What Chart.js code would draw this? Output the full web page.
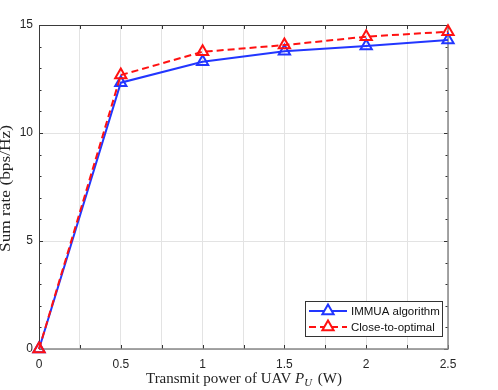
<!DOCTYPE html>
<html><head><meta charset="utf-8">
<script src="https://cdn.jsdelivr.net/npm/chart.js@4"></script>
<style>html,body{margin:0;padding:0;background:#fff}</style></head><body>
<canvas id="c" width="498" height="390"></canvas>
<script>
const powers = [0, 0.5, 1, 1.5, 2, 2.5];
const immua = [0, 12.33, 13.30, 13.78, 14.03, 14.30];
const closeOpt = [0, 12.68, 13.76, 14.07, 14.46, 14.69];
const xTickLabels = ['0', '0.5', '1', '1.5', '2', '2.5'];
const yTickLabels = ['0', '5', '10', '15'];
const seriesNames = ['IMMUA algorithm', 'Close-to-optimal'];
const yTitle = 'Sum rate (bps/Hz)';
const xTitleParts = ['Transmit power of UAV ', 'P', 'U', ' (W)'];

const BLUE = '#2236ff', RED = '#ff1111';
const TICKFONT = '11.5px "Liberation Sans", Arial, sans-serif';
const SERIF = '"Liberation Serif", "DejaVu Serif", serif';

function lbl(list, v) {
  const i = list.findIndex(s => Math.abs(parseFloat(s) - v) < 1e-6);
  return i >= 0 ? list[i] : '';
}

const frame = {
  id: 'frame',
  beforeDatasetsDraw(chart) {
    const {ctx, chartArea: a, scales: {x, y}} = chart;
    ctx.save();
    ctx.strokeStyle = '#333'; ctx.lineWidth = 1;
    ctx.beginPath();
    for (let v = 0; v <= 2.5001; v += 0.25) {
      const px = Math.round(x.getPixelForValue(v)) + 0.5;
      ctx.moveTo(px, a.bottom); ctx.lineTo(px, a.bottom - 4);
      ctx.moveTo(px, a.top); ctx.lineTo(px, a.top + 4);
    }
    for (let v = 0; v <= 15; v += 1) {
      const py = Math.round(y.getPixelForValue(v)) + 0.5;
      const len = (v % 5 === 0) ? 4 : 2.5;
      ctx.moveTo(a.left, py); ctx.lineTo(a.left + len, py);
      ctx.moveTo(a.right, py); ctx.lineTo(a.right - len, py);
    }
    ctx.stroke();
    ctx.strokeStyle = '#3a3a3a'; ctx.lineWidth = 1;
    ctx.beginPath();
    ctx.moveTo(a.left + 0.5, a.bottom); ctx.lineTo(a.left + 0.5, a.top + 0.5); ctx.lineTo(a.right, a.top + 0.5);
    ctx.stroke();
    ctx.strokeStyle = '#888'; ctx.lineWidth = 1.5;
    ctx.beginPath();
    ctx.moveTo(a.left, a.bottom); ctx.lineTo(a.right, a.bottom); ctx.lineTo(a.right, a.top);
    ctx.stroke();
    ctx.restore();
  },
  afterDraw(chart) {
    const {ctx, chartArea: a} = chart;
    ctx.save();
    ctx.fillStyle = '#222';
    ctx.textBaseline = 'alphabetic';
    const fN = '14px ' + SERIF, fI = 'italic 14px ' + SERIF, fS = 'italic 10px ' + SERIF;
    ctx.font = fN; const w0 = ctx.measureText(xTitleParts[0]).width, w3 = ctx.measureText(xTitleParts[3]).width;
    ctx.font = fI; const w1 = ctx.measureText(xTitleParts[1]).width;
    ctx.font = fS; const w2 = ctx.measureText(xTitleParts[2]).width;
    const tot = w0 + w1 + w2 + 2 + w3;
    const targetW = 196, sx = targetW / tot;
    ctx.save();
    ctx.translate(146, 383);
    ctx.scale(sx, 1);
    let xx = 0;
    ctx.textAlign = 'left';
    ctx.font = fN; ctx.fillText(xTitleParts[0], xx, 0); xx += w0;
    ctx.font = fI; ctx.fillText(xTitleParts[1], xx, 0); xx += w1;
    ctx.font = fS; ctx.fillText(xTitleParts[2], xx, 3); xx += w2 + 2;
    ctx.font = fN; ctx.fillText(xTitleParts[3], xx, 0);
    ctx.restore();
    ctx.save();
    ctx.font = fN;
    const yw = ctx.measureText(yTitle).width;
    ctx.translate(10, 188.5);
    ctx.rotate(-Math.PI / 2);
    ctx.scale(127 / yw, 1);
    ctx.textAlign = 'center';
    ctx.fillText(yTitle, 0, 0);
    ctx.restore();
    const L = 305, T = 301, R = 442, B = 336;
    ctx.fillStyle = '#fff';
    ctx.fillRect(L, T, R - L, B - T);
    ctx.strokeStyle = '#333'; ctx.lineWidth = 1;
    ctx.strokeRect(L + 0.5, T + 0.5, R - L, B - T);
    chart.data.datasets.forEach((ds, i) => {
      const yy = 311 + i * 16;
      ctx.strokeStyle = ds.borderColor; ctx.lineWidth = 2;
      ctx.setLineDash(ds.borderDash || []);
      ctx.beginPath(); ctx.moveTo(309, yy); ctx.lineTo(347, yy); ctx.stroke();
      ctx.setLineDash([]);
      const r = ds.pointRadius;
      ctx.beginPath();
      for (let k = 0; k < 3; k++) {
        const ang = k * 2 * Math.PI / 3;
        const px = 328 + Math.sin(ang) * r, py = yy - Math.cos(ang) * r;
        k === 0 ? ctx.moveTo(px, py) : ctx.lineTo(px, py);
      }
      ctx.closePath(); ctx.fillStyle = '#fff'; ctx.fill();
      ctx.lineWidth = ds.pointBorderWidth; ctx.stroke();
      ctx.fillStyle = '#111'; ctx.font = TICKFONT; ctx.textAlign = 'left'; ctx.textBaseline = 'middle';
      ctx.fillText(ds.label, 351, yy + 1);
    });
    ctx.restore();
  }
};

new Chart(document.getElementById('c'), {
  type: 'line',
  data: {
    datasets: [
      { label: seriesNames[0], data: powers.map((p, i) => ({x: p, y: immua[i]})), order: 1,
        borderColor: BLUE, backgroundColor: 'rgba(0,0,0,0)', borderWidth: 2,
        pointStyle: 'triangle', pointRadius: 6.5, pointBorderWidth: 2,
        pointBackgroundColor: 'rgba(0,0,0,0)', pointBorderColor: BLUE, clip: false, tension: 0 },
      { label: seriesNames[1], data: powers.map((p, i) => ({x: p, y: closeOpt[i]})), order: 0,
        borderColor: RED, backgroundColor: 'rgba(0,0,0,0)', borderWidth: 2, borderDash: [7, 4],
        pointStyle: 'triangle', pointRadius: 6.5, pointBorderWidth: 2,
        pointBackgroundColor: 'rgba(0,0,0,0)', pointBorderColor: RED, clip: false, tension: 0 }
    ]
  },
  options: {
    responsive: false, animation: false,
    layout: { padding: { left: 0, top: 25, right: 50, bottom: 0 } },
    plugins: { legend: { display: false }, tooltip: { enabled: false } },
    scales: {
      x: {
        type: 'linear', min: 0, max: 2.5,
        afterFit(s) { s.height = 41; },
        ticks: { stepSize: 0.25, autoSkip: false, maxRotation: 0, padding: 8, color: '#262626',
          font: { family: '"Liberation Sans", Arial, sans-serif', size: 12 },
          callback: v => lbl(xTickLabels, v) },
        grid: { color: '#e3e3e3', drawTicks: false, lineWidth: 1 },
        border: { display: false }
      },
      y: {
        min: 0, max: 15,
        afterFit(s) { s.width = 39; },
        ticks: { stepSize: 1, autoSkip: false, padding: 6, color: '#262626',
          font: { family: '"Liberation Sans", Arial, sans-serif', size: 12 },
          callback: v => lbl(yTickLabels, v) },
        grid: { color: c => (c.tick && c.tick.value % 5 === 0) ? '#e3e3e3' : 'rgba(0,0,0,0)', drawTicks: false },
        border: { display: false }
      }
    }
  },
  plugins: [frame]
});
</script>
</body></html>
